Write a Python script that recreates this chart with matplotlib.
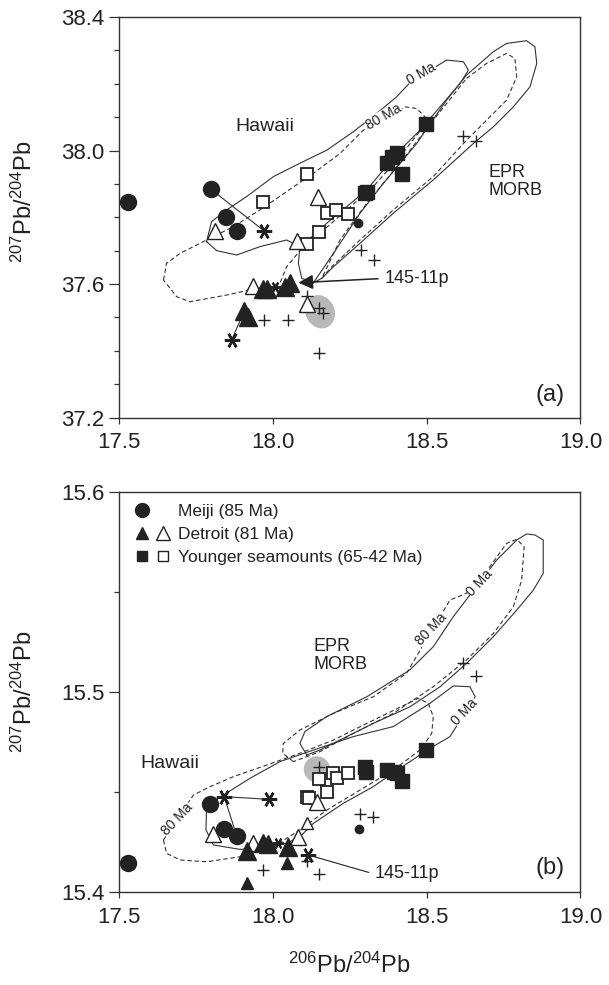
import matplotlib
matplotlib.use("Agg")
import matplotlib.pyplot as plt
from matplotlib.lines import Line2D
from matplotlib.patches import Ellipse
from matplotlib.legend_handler import HandlerTuple
from matplotlib.ticker import MultipleLocator, FormatStrFormatter

plt.rcParams['font.family'] = ['Liberation Sans', 'DejaVu Sans']
plt.rcParams['mathtext.fontset'] = 'custom'
plt.rcParams['mathtext.rm'] = 'Liberation Sans'
plt.rcParams['mathtext.it'] = 'Liberation Sans:italic'

INK = '#222222'

# ---------------- panel (a): 208/207 vs 206 ----------------
meiji_a_x = [17.532, 17.800, 17.849, 17.886]
meiji_a_y = [37.847, 37.884, 37.802, 37.759]
meiji_sm_a_x = [18.279]
meiji_sm_a_y = [37.782]

det_fill_a_x = [17.909, 17.919, 17.968, 17.982, 18.040, 18.057]
det_fill_a_y = [37.520, 37.500, 37.584, 37.586, 37.590, 37.602]
det_open_a_x = [17.813, 18.149, 18.078, 17.938, 18.113]
det_open_a_y = [37.759, 37.862, 37.730, 37.594, 37.540]

yng_fill_a_x = [18.498, 18.371, 18.387, 18.403, 18.419, 18.300, 18.306]
yng_fill_a_y = [38.081, 37.964, 37.982, 37.994, 37.930, 37.872, 37.877]
yng_open_a_x = [18.113, 17.968, 18.176, 18.206, 18.246, 18.152, 18.111]
yng_open_a_y = [37.930, 37.847, 37.814, 37.822, 37.809, 37.757, 37.719]

ast_a_x = [17.973, 17.867]
ast_a_y = [37.759, 37.432]
ast_sm_a_x = [18.008]
ast_sm_a_y = [37.590]

plus_a_x = [18.617, 18.661, 18.287, 18.331, 17.972, 18.051, 18.152, 18.113, 18.152, 18.163]
plus_a_y = [38.043, 38.029, 37.702, 37.672, 37.492, 37.492, 37.392, 37.564, 37.527, 37.512]

ties_a = [([17.800, 17.973], [37.884, 37.759]),
          ([17.909, 17.867], [37.520, 37.432])]

haw0_a_x = [17.786, 17.802, 17.851, 17.916, 18.003, 18.089, 18.176, 18.262, 18.338, 18.403,
            18.446, 18.565, 18.620, 18.636, 18.609, 18.544, 18.479, 18.414, 18.360, 18.306,
            18.241, 18.176, 18.122, 18.089, 18.046, 17.959, 17.884, 17.819, 17.786]
haw0_a_y = [37.727, 37.787, 37.822, 37.862, 37.922, 37.962, 38.001, 38.056, 38.111, 38.161,
            38.203, 38.271, 38.266, 38.241, 38.201, 38.131, 38.061, 38.001, 37.942, 37.882,
            37.832, 37.782, 37.737, 37.712, 37.732, 37.712, 37.687, 37.700, 37.727]
haw_tail_a_x = [18.089, 18.084, 18.095, 18.133]
haw_tail_a_y = [37.712, 37.662, 37.617, 37.604]

haw80_a_x = [17.646, 17.656, 17.700, 17.786, 17.873, 17.959, 18.046, 18.133, 18.219, 18.295,
             18.430, 18.468, 18.506, 18.414, 18.327, 18.241, 18.154, 18.100, 18.046, 18.024,
             17.949, 17.851, 17.732, 17.689, 17.646]
haw80_a_y = [37.612, 37.662, 37.692, 37.732, 37.772, 37.822, 37.877, 37.932, 37.991, 38.061,
             38.131, 38.126, 38.091, 37.982, 37.892, 37.822, 37.752, 37.712, 37.652, 37.602,
             37.587, 37.567, 37.547, 37.562, 37.612]

morb0_a_x = [18.133, 18.198, 18.284, 18.360, 18.468, 18.565, 18.630, 18.717, 18.760, 18.825,
             18.852, 18.858, 18.836, 18.782, 18.717, 18.652, 18.522, 18.392, 18.284, 18.198,
             18.160, 18.133]
morb0_a_y = [37.604, 37.692, 37.812, 37.902, 38.021, 38.151, 38.226, 38.296, 38.321, 38.329,
             38.311, 38.261, 38.191, 38.131, 38.071, 38.021, 37.912, 37.812, 37.722, 37.652,
             37.617, 37.604]
morb80_a_x = [18.630, 18.695, 18.760, 18.787, 18.793, 18.760, 18.695, 18.630, 18.522, 18.392,
              18.284, 18.187, 18.160, 18.219, 18.306, 18.414, 18.522, 18.630]
morb80_a_y = [38.216, 38.261, 38.291, 38.276, 38.221, 38.151, 38.091, 38.031, 37.922, 37.822,
              37.732, 37.647, 37.617, 37.732, 37.842, 37.962, 38.091, 38.216]

# ---------------- panel (b): 207 vs 206 ----------------
meiji_b_x = [17.532, 17.797, 17.843, 17.884]
meiji_b_y = [15.4146, 15.4439, 15.4313, 15.4280]
meiji_sm_b_x = [18.282]
meiji_sm_b_y = [15.4313]

det_fill_b_x = [17.916, 17.970, 17.984, 18.051]
det_fill_b_y = [15.4206, 15.4243, 15.4240, 15.4226]
det_fill_sm_b_x = [18.046, 17.918]
det_fill_sm_b_y = [15.4143, 15.4047]
det_open_b_x = [17.806, 18.143, 18.084, 17.938]
det_open_b_y = [15.4290, 15.4451, 15.4273, 15.4243]
det_open_sm_b_x = [18.113]
det_open_sm_b_y = [15.4343]

yng_fill_b_x = [18.498, 18.300, 18.303, 18.371, 18.394, 18.403, 18.419]
yng_fill_b_y = [15.4709, 15.4626, 15.4601, 15.4609, 15.4601, 15.4593, 15.4556]
yng_open_b_x = [18.152, 18.198, 18.209, 18.246, 18.176, 18.113, 18.118]
yng_open_b_y = [15.4563, 15.4593, 15.4568, 15.4593, 15.4501, 15.4476, 15.4470]

ast_b_x = [17.843, 17.987, 18.116]
ast_b_y = [15.4476, 15.4463, 15.4185]
ast_sm_b_x = [18.019]
ast_sm_b_y = [15.4243]

plus_b_x = [18.152, 18.284, 18.327, 17.970, 18.152, 18.111, 18.617, 18.661]
plus_b_y = [15.4623, 15.4390, 15.4373, 15.4110, 15.4090, 15.4157, 15.5142, 15.5079]

ties_b = [([17.843, 17.987], [15.4476, 15.4463]),
          ([17.843, 17.884], [15.4476, 15.4280])]

haw0_b_x = [17.786, 17.840, 17.927, 18.024, 18.133, 18.262, 18.392, 18.511, 18.587, 18.641,
            18.658, 18.576, 18.511, 18.414, 18.327, 18.230, 18.133, 18.089, 18.046, 17.959,
            17.894, 17.808, 17.784, 17.786]
haw0_b_y = [15.4426, 15.4484, 15.4568, 15.4651, 15.4709, 15.4776, 15.4826, 15.4942, 15.5029, 15.5025,
            15.4975, 15.4776, 15.4717, 15.4618, 15.4526, 15.4443, 15.4343, 15.4276, 15.4243, 15.4218,
            15.4213, 15.4235, 15.4310, 15.4426]
haw80_b_x = [17.646, 17.656, 17.700, 17.786, 17.894, 18.003, 18.089, 18.176, 18.284, 18.392,
             18.479, 18.517, 18.522, 18.506, 18.473, 18.306, 18.198, 18.089, 17.981, 17.873,
             17.797, 17.743, 17.646]
haw80_b_y = [15.4260, 15.4193, 15.4160, 15.4151, 15.4176, 15.4226, 15.4310, 15.4409, 15.4509, 15.4609,
             15.4709, 15.4792, 15.4876, 15.4942, 15.4967, 15.4842, 15.4759, 15.4693, 15.4634, 15.4576,
             15.4526, 15.4484, 15.4260]
morb0_b_x = [18.111, 18.089, 18.105, 18.176, 18.306, 18.446, 18.522, 18.587, 18.728, 18.793,
             18.825, 18.852, 18.879, 18.879, 18.847, 18.793, 18.717, 18.630, 18.544, 18.446,
             18.327, 18.219, 18.154, 18.111]
morb0_b_y = [15.4684, 15.4742, 15.4801, 15.4876, 15.4975, 15.5109, 15.5225, 15.5375, 15.5658, 15.5758,
             15.5788, 15.5783, 15.5758, 15.5591, 15.5508, 15.5408, 15.5275, 15.5142, 15.5025, 15.4925,
             15.4842, 15.4759, 15.4709, 15.4684]
morb80_b_x = [18.068, 18.033, 18.035, 18.089, 18.198, 18.327, 18.435, 18.576, 18.630, 18.706,
              18.760, 18.793, 18.817, 18.809, 18.782, 18.717, 18.630, 18.522, 18.392, 18.262,
              18.154, 18.068]
morb80_b_y = [15.4651, 15.4693, 15.4742, 15.4809, 15.4892, 15.4975, 15.5092, 15.5458, 15.5492, 15.5625,
              15.5741, 15.5761, 15.5724, 15.5558, 15.5425, 15.5291, 15.5159, 15.5025, 15.4892, 15.4792,
              15.4701, 15.4651]

x_ticks = [17.5, 18.0, 18.5, 19.0]
ylab = r'$^{207}$Pb/$^{204}$Pb'
xlab = r'$^{206}$Pb/$^{204}$Pb'


def age_label(ax, x, y, s, rot):
    ax.text(x, y, s, fontsize=10, rotation=rot, rotation_mode='anchor', ha='center',
            va='center', color=INK, zorder=4,
            bbox=dict(fc='white', ec='none', pad=0.3))


def outlines(ax, h0, h80, m0, m80, tail=None):
    kw = dict(color='#333333', lw=0.8, zorder=2)
    ax.plot(*h0, ls='-', **kw)
    ax.plot(*h80, ls=(0, (4, 2.5)), **kw)
    ax.plot(*m0, ls='-', **kw)
    ax.plot(*m80, ls=(0, (4, 2.5)), **kw)
    if tail:
        ax.plot(*tail, ls='-', **kw)


def samples(ax, d):
    for tx, ty in d['ties']:
        ax.plot(tx, ty, color='#333333', lw=0.8, zorder=3)
    ax.plot(d['plus'][0], d['plus'][1], '+', ms=9, mew=1.0, color=INK, ls='none', zorder=5)
    ax.plot(d['yo'][0], d['yo'][1], 's', ms=9, mfc='white', mec=INK, mew=1.3, ls='none', zorder=5)
    ax.plot(d['yf'][0], d['yf'][1], 's', ms=9.5, color=INK, ls='none', zorder=6)
    ax.plot(d['do'][0], d['do'][1], '^', ms=12, mfc='white', mec=INK, mew=1.0, ls='none', zorder=5)
    for xs, ys, ms in d['do_sm']:
        ax.plot(xs, ys, '^', ms=ms, mfc='white', mec=INK, mew=1.0, ls='none', zorder=5)
    ax.plot(d['df'][0], d['df'][1], '^', ms=12.5, color=INK, ls='none', zorder=6)
    for xs, ys, ms in d['df_sm']:
        ax.plot(xs, ys, '^', ms=ms, color=INK, ls='none', zorder=6)
    ax.plot(d['mf'][0], d['mf'][1], 'o', ms=11.5, color=INK, ls='none', zorder=6)
    ax.plot(d['msm'][0], d['msm'][1], 'o', ms=6, color=INK, ls='none', zorder=6)
    ax.plot(d['ast'][0], d['ast'][1], marker=(6, 2, 90), ms=11, mew=1.8, color=INK, ls='none', zorder=6)
    ax.plot(d['ast_sm'][0], d['ast_sm'][1], marker=(6, 2, 90), ms=8, mew=1.4, color=INK, ls='none', zorder=6)


def style(ax, ylim, major, minor):
    ax.set_xlim(17.5, 19.0)
    ax.set_ylim(*ylim)
    ax.set_xticks(x_ticks)
    ax.xaxis.set_major_formatter(FormatStrFormatter('%.1f'))
    ax.yaxis.set_major_locator(MultipleLocator(major))
    ax.yaxis.set_minor_locator(MultipleLocator(minor))
    ax.yaxis.set_major_formatter(FormatStrFormatter('%.1f'))
    ax.tick_params(axis='both', which='both', direction='out', width=0.9, colors='#333333',
                   labelcolor=INK, labelsize=16)
    ax.tick_params(axis='y', which='major', length=7, pad=3)
    ax.tick_params(axis='y', which='minor', length=3.5)
    ax.tick_params(axis='x', which='major', length=4.5, pad=6)
    for sp in ax.spines.values():
        sp.set_color('#333333')
        sp.set_linewidth(1.0)
    ax.set_ylabel(ylab, fontsize=17, color=INK)


fig = plt.figure(figsize=(6.09, 9.85), dpi=100)
ax_a = fig.add_axes([0.1946, 0.5761, 0.7586, 0.4066])
ax_b = fig.add_axes([0.1946, 0.0944, 0.7586, 0.4066])

# panel (a)
ax_a.add_patch(Ellipse((18.154, 37.517), width=0.105, height=0.092, angle=-50,
                       color='#b8b8b8', ec='none', zorder=1))
outlines(ax_a, (haw0_a_x, haw0_a_y), (haw80_a_x, haw80_a_y), (morb0_a_x, morb0_a_y),
         (morb80_a_x, morb80_a_y), tail=(haw_tail_a_x, haw_tail_a_y))
samples(ax_a, dict(ties=ties_a, plus=(plus_a_x, plus_a_y), yo=(yng_open_a_x, yng_open_a_y),
                   yf=(yng_fill_a_x, yng_fill_a_y), do=(det_open_a_x, det_open_a_y), do_sm=[],
                   df=(det_fill_a_x, det_fill_a_y), df_sm=[], mf=(meiji_a_x, meiji_a_y),
                   msm=(meiji_sm_a_x, meiji_sm_a_y), ast=(ast_a_x, ast_a_y),
                   ast_sm=(ast_sm_a_x, ast_sm_a_y)))
age_label(ax_a, 18.484, 38.230, '0 Ma', 30)
age_label(ax_a, 18.362, 38.100, '80 Ma', 30)
ax_a.text(17.976, 38.072, 'Hawaii', fontsize=14, ha='center', va='center', color=INK)
ax_a.text(18.701, 37.907, 'EPR\nMORB', fontsize=13, ha='left', va='center', color=INK,
          linespacing=1.1)
ax_a.annotate('145-11p', xy=(18.084, 37.604), xytext=(18.365, 37.617), fontsize=13,
              va='center', ha='left', color=INK, zorder=7,
              arrowprops=dict(arrowstyle='-|>', lw=1.1, color=INK, mutation_scale=22,
                              relpos=(0, 0.5), shrinkA=3, shrinkB=0))
ax_a.text(18.90, 37.267, '(a)', fontsize=17, ha='center', va='center', color=INK)
style(ax_a, (37.2, 38.4), 0.4, 0.1)
ax_a.yaxis.set_label_coords(-0.176, 0.538)

# panel (b)
ax_b.add_patch(Ellipse((18.144, 15.4613), width=0.085, height=0.013,
                       color='#b8b8b8', ec='none', zorder=1))
outlines(ax_b, (haw0_b_x, haw0_b_y), (haw80_b_x, haw80_b_y), (morb0_b_x, morb0_b_y),
         (morb80_b_x, morb80_b_y))
samples(ax_b, dict(ties=ties_b, plus=(plus_b_x, plus_b_y), yo=(yng_open_b_x, yng_open_b_y),
                   yf=(yng_fill_b_x, yng_fill_b_y), do=(det_open_b_x, det_open_b_y),
                   do_sm=[(det_open_sm_b_x, det_open_sm_b_y, 9)],
                   df=(det_fill_b_x, det_fill_b_y), df_sm=[(det_fill_sm_b_x, det_fill_sm_b_y, 9)],
                   mf=(meiji_b_x, meiji_b_y), msm=(meiji_sm_b_x, meiji_sm_b_y),
                   ast=(ast_b_x, ast_b_y), ast_sm=(ast_sm_b_x, ast_sm_b_y)))
age_label(ax_b, 18.674, 15.5545, '0 Ma', 47)
age_label(ax_b, 18.515, 15.5315, '80 Ma', 47)
age_label(ax_b, 18.625, 15.4900, '0 Ma', 47)
age_label(ax_b, 17.690, 15.4365, '80 Ma', 47)
ax_b.text(17.668, 15.4643, 'Hawaii', fontsize=14, ha='center', va='center', color=INK)
ax_b.text(18.132, 15.518, 'EPR\nMORB', fontsize=13, ha='left', va='center', color=INK,
          linespacing=1.1)
ax_b.annotate('145-11p', xy=(18.127, 15.418), xytext=(18.33, 15.409), fontsize=13,
              va='center', ha='left', color=INK, zorder=7,
              arrowprops=dict(arrowstyle='-', lw=0.8, color=INK, relpos=(0, 0.5),
                              shrinkA=2, shrinkB=0))
ax_b.text(18.90, 15.412, '(b)', fontsize=17, ha='center', va='center', color=INK)
style(ax_b, (15.4, 15.6), 0.1, 0.05)
ax_b.yaxis.set_label_coords(-0.176, 0.5)
ax_b.set_xlabel(xlab, fontsize=17, color=INK, labelpad=18)

# legend: filled / open symbol pairs
blank = Line2D([], [], ls='none', marker='none')
h_meiji = Line2D([], [], ls='none', marker='o', ms=10, color=INK)
h_det_f = Line2D([], [], ls='none', marker='^', ms=8.5, color=INK)
h_det_o = Line2D([], [], ls='none', marker='^', ms=10, mfc='white', mec=INK, mew=1.0)
h_yng_f = Line2D([], [], ls='none', marker='s', ms=7, color=INK)
h_yng_o = Line2D([], [], ls='none', marker='s', ms=7, mfc='white', mec=INK, mew=1.0)
ax_b.legend([(h_meiji, blank), (h_det_f, h_det_o), (h_yng_f, h_yng_o)],
            ['Meiji (85 Ma)', 'Detroit (81 Ma)', 'Younger seamounts (65-42 Ma)'],
            handler_map={tuple: HandlerTuple(ndivide=None, pad=0)},
            loc='upper left', frameon=False, fontsize=12.5, numpoints=1,
            handlelength=2.5, handletextpad=0.25, borderaxespad=0.3, borderpad=0.4,
            labelspacing=0.45, labelcolor=INK)

fig.savefig('out.png', dpi=100)
